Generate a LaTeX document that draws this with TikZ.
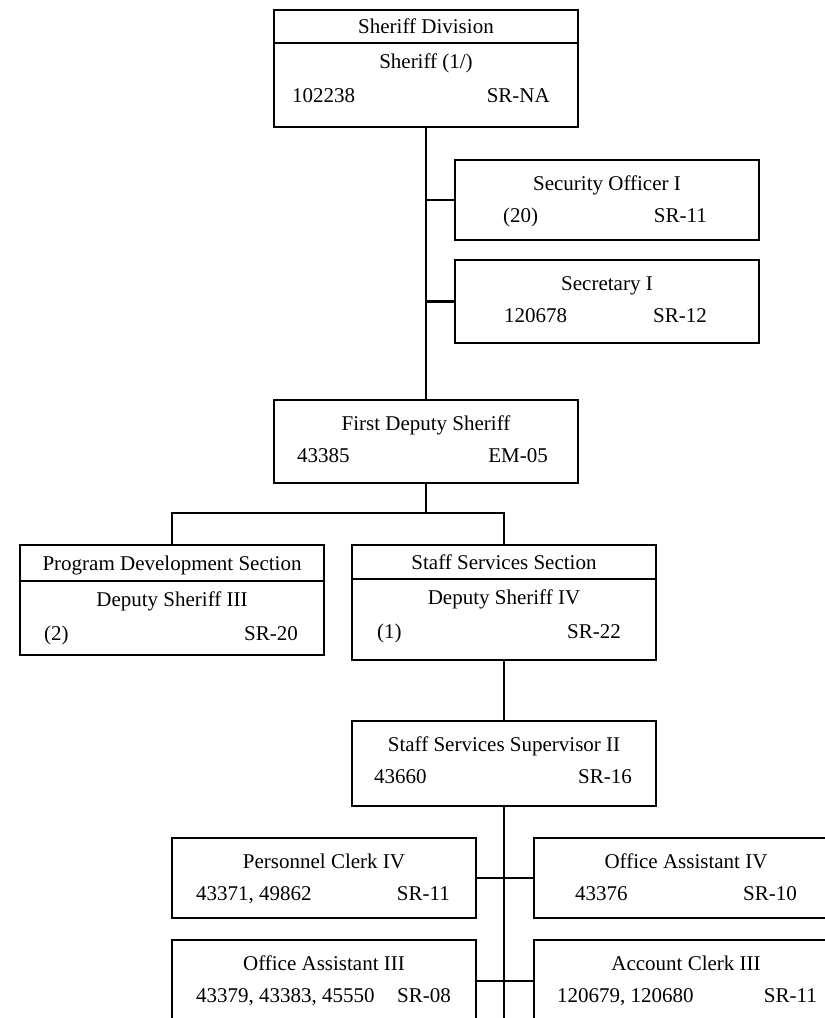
\documentclass[tikz,border=0pt]{standalone}
\usepackage{fontspec}
\setmainfont{Liberation Serif}
\usetikzlibrary{calc}
\tikzset{
  post box/.style={
    rectangle, draw, line width=2.8pt,
    minimum width=304pt, inner sep=0pt, outer sep=0pt,
    anchor=north west,
  },
  post text/.style={inner sep=0pt, font=\fontsize{21}{24}\selectfont},
  org line/.style={line width=2.8pt},
}
\begin{document}
\begin{tikzpicture}[x=1pt, y=-1pt]
\useasboundingbox (0,0) rectangle (825,1018);
\clip (0,0) rectangle (825,1018);

% --- PARAMETERS ---
% plain posts: name/left/top/height/title/left text/right text/left inset/right inset
\def\posts{%
  secoff/455/160/80/Security Officer I/(20)/SR-11/48/52,%
  secy/455/260/83/Secretary I/120678/SR-12/49/52,%
  fds/274/400/83/First Deputy Sheriff/43385/EM-05/23/30,%
  sss/352/721/85/Staff Services Supervisor II/43660/SR-16/22/24,%
  pclerk/172/838/80/Personnel Clerk IV/{43371, 49862}/SR-11/24/26,%
  oafour/534/838/80/Office Assistant IV/43376/SR-10/41/41,%
  oathree/172/940/82/Office Assistant III/{43379, 43383, 45550}/SR-08/24/25,%
  aclerk/534/940/82/Account Clerk III/{120679, 120680}/SR-11/23/21%
}
% posts with a section head: name/left/top/divider/height/section/title/left/right/insets
\def\sections{%
  sheriff/274/10/33/117/Sheriff Division/{Sheriff (1/)}/102238/SR-NA/18/28,%
  pds/20/545/36/110/Program Development Section/Deputy Sheriff III/(2)/SR-20/24/26,%
  ssec/352/545/34/115/Staff Services Section/Deputy Sheriff IV/(1)/SR-22/25/35%
}

% --- DRAW POSTS ---
\foreach \n/\xl/\yt/\h/\title/\lt/\rt/\li/\ri in \posts {
  \node[post box, minimum height=\h pt] (\n) at (\xl,\yt) {};
  \node[post text, anchor=base] (\n-t) at ($(\n.north)+(0,30)$) {\title};
  \node[post text, anchor=base west] (\n-l) at ($(\n.north west)+(\li,62)$) {\lt};
  \node[post text, anchor=base east] (\n-r) at ($(\n.north east)+(-\ri,62)$) {\rt};
}

\foreach \n/\xl/\yt/\dv/\h/\sec/\title/\lt/\rt/\li/\ri in \sections {
  \node[post box, minimum height=\h pt] (\n) at (\xl,\yt) {};
  \draw[org line] ($(\n.north west)+(0,\dv)$) -- ($(\n.north east)+(0,\dv)$);
  \node[post text, anchor=base] (\n-s) at ($(\n.north)+(0,\dv/2+7)$) {\sec};
  \node[post text, anchor=base] (\n-t) at ($(\n.north)+(0,\dv+25)$) {\title};
  \node[post text, anchor=base west] (\n-l) at ($(\n.north west)+(\li,\dv+59)$) {\lt};
  \node[post text, anchor=base east] (\n-r) at ($(\n.north east)+(-\ri,\dv+59)$) {\rt};
}

% --- CONNECTORS ---
\coordinate (split) at (426,513);
\coordinate (tail) at (504,1030);
\draw[org line] (sheriff.south) -- (fds.north);
\draw[org line] (secoff.west) -- (secoff.west -| fds.north);
\draw[org line] (secy.west) -- (secy.west -| fds.north);
\draw[org line] (fds.south) -- (split);
\draw[org line] (pds.north) |- (split) -| (ssec.north);
\draw[org line] (ssec.south) -- (sss.north);
\draw[org line] (sss.south) -- (tail);
\draw[org line] (pclerk.east) -- (oafour.west);
\draw[org line] (oathree.east) -- (aclerk.west);

\end{tikzpicture}
\end{document}
